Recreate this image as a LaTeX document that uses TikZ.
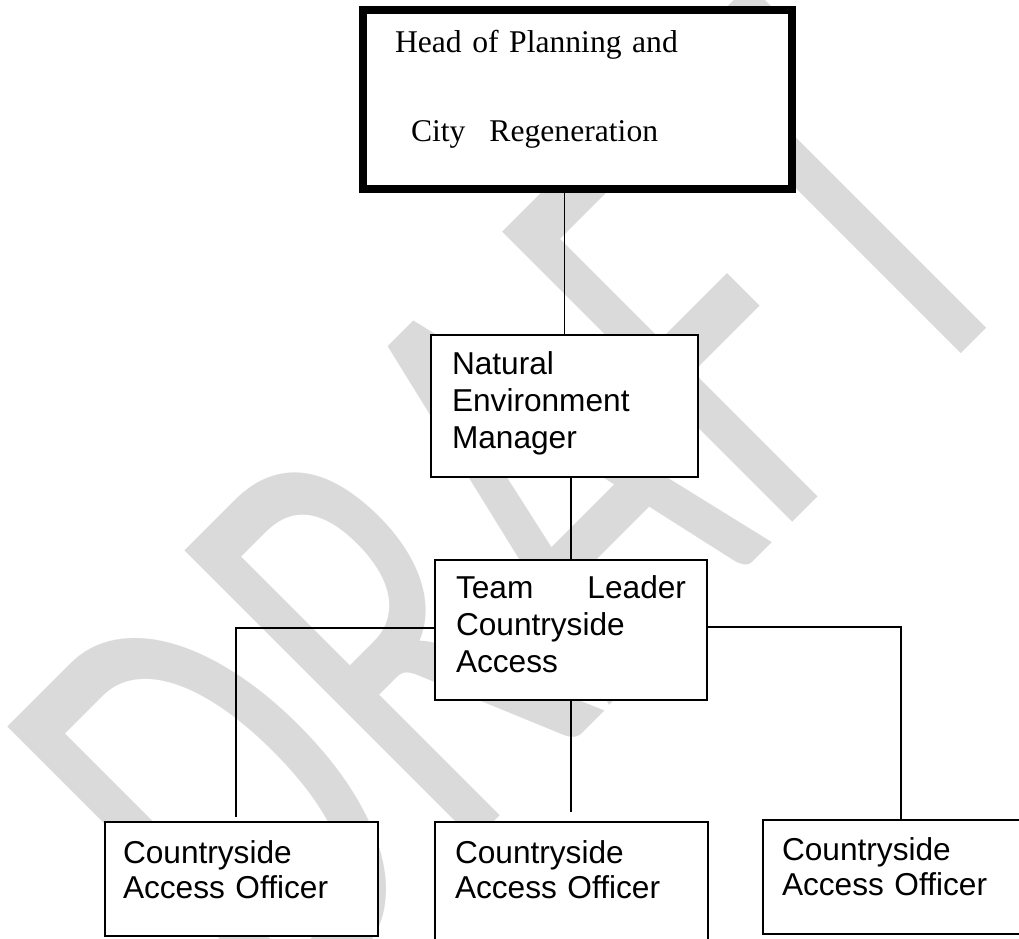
\documentclass[tikz,border=0pt]{standalone}
\usepackage{fontspec}
\setmainfont{Liberation Serif}
\setsansfont{Liberation Sans}
\newfontfamily\wmfont{Carlito}
\usepackage{xcolor}
\usepackage{tikz}
\usetikzlibrary{positioning, calc}
\definecolor{draftgray}{RGB}{218,218,218}

\begin{document}
\begin{tikzpicture}[
    postbox/.style={draw, fill=white, line width=0.8pt, inner sep=0, align=left, font=\sffamily\fontsize{18}{21}\selectfont},
    officebox/.style={postbox, font=\sffamily\fontsize{18}{20}\selectfont},
    link/.style={line width=0.75pt}]

    \useasboundingbox (0,0) rectangle (20.38,18.76);

    % Watermark
    \node[rotate=45, xscale=0.63, text=draftgray, inner sep=0, font=\wmfont\fontsize{364}{364}\selectfont] (draft) at (10.32,8.58) {DRAFT};

    % Head of service
    \node[draw, fill=white, line width=4.5pt, inner sep=0, align=left, font=\rmfamily\fontsize{18}{21}\selectfont,
          minimum width=8.58cm, minimum height=3.58cm, text width=7.3cm, text height=0.86cm, text depth=2.72cm]
          (head) at (11.55,16.77) {Head of Planning and\\[1.04cm]\hspace*{0.32cm}City\hspace{0.48cm}Regeneration};

    % Managers
    \node[postbox, minimum width=5.34cm, minimum height=2.84cm, text width=4.5cm, text height=0.8cm, text depth=2.04cm]
          (nat) at (11.29,10.64) {Natural\\Environment\\Manager};
    \node[postbox, minimum width=5.44cm, minimum height=2.8cm, text width=4.6cm, text height=0.78cm, text depth=2.02cm]
          (team) at (11.42,6.16) {\makebox[4.6cm][l]{Team\hfill Leader}\\Countryside\\Access};

    % Officers
    \node[officebox, minimum width=5.46cm, minimum height=2.28cm, text width=4.74cm, text height=0.82cm, text depth=1.46cm]
          (off1) at (4.83,1.18) {Countryside\\Access Officer};
    \node[officebox, minimum width=5.46cm, minimum height=2.46cm, text width=4.66cm, text height=0.82cm, text depth=1.64cm]
          (off2) at (11.43,1.09) {Countryside\\Access Officer};
    \node[officebox, minimum width=5.38cm, minimum height=2.28cm, text width=4.62cm, text height=0.8cm, text depth=1.48cm]
          (off3) at (17.95,1.22) {Countryside\\Access Officer};

    % Lines
    \draw[link] (nat.north) -- (nat.north |- head.south);
    \draw[link] (team.north) -- (team.north |- nat.south);
    \draw[link] ([yshift=0.04cm]team.west) -| ($(off1.north)+(-0.11,0.08)$);
    \draw[link] (team.south) -- ($(team.south |- off2.north)+(0,0.18)$);
    \draw[link] ([yshift=0.06cm]team.east) -| ($(off3.north)+(0.07,0)$);
\end{tikzpicture}
\end{document}
